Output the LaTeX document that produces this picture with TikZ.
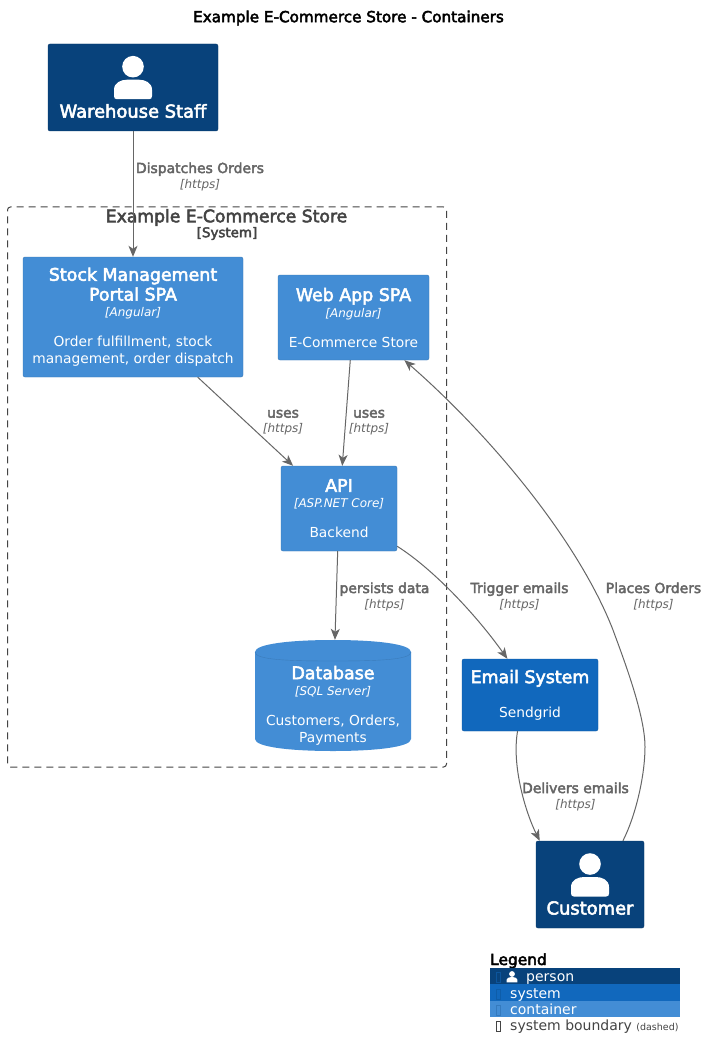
\documentclass[tikz,border=0pt]{standalone}
\usepackage{fontspec}
\setmainfont{DejaVu Sans}
\newfontfamily\semi[FakeBold=3]{DejaVu Sans}
\usetikzlibrary{arrows.meta}
\definecolor{personc}{HTML}{08427B}
\definecolor{systemc}{HTML}{1168BD}
\definecolor{containerc}{HTML}{438DD5}
\definecolor{linec}{HTML}{666666}
\definecolor{boundc}{HTML}{444444}
\newcommand{\fsz}[1]{\fontsize{#1}{#1}\selectfont}
\tikzset{
  box/.style={rectangle,rounded corners=2pt,inner sep=0pt,text=white,align=center},
  personbox/.style={box,fill=personc,draw=personc!85!black,line width=.4pt},
  systembox/.style={box,fill=systemc,draw=systemc!85!black,line width=.4pt},
  contbox/.style={box,fill=containerc,draw=containerc!85!black,line width=.4pt},
  rel/.style={draw=linec,line width=1pt,-{Stealth[length=11pt,width=9pt,inset=3pt]}},
  rellabel/.style={text=linec,align=center,inner sep=0pt},
  txt/.style={inner sep=0pt,align=center},
}
\newcommand{\nm}[1]{{\semi\fsz{17.4}#1}}
\newcommand{\tech}[1]{{\fsz{12}\itshape [#1]}}
\newcommand{\dsc}[1]{{\fsz{13.8}#1}}
\newcommand{\rl}[2]{{\semi\fsz{13.9}#1}\\[2pt]{\fsz{12}\itshape [#2]}}
\newcommand{\personicon}[2]{%
  \fill[white] (#1,#2) circle (10.8);
  \fill[white] (#1-16,#2+32.5) -- (#1+16,#2+32.5) .. controls (#1+18,#2+32.5) and (#1+19,#2+31.5) .. (#1+19,#2+29.5) -- (#1+19,#2+23) .. controls (#1+19,#2+16) and (#1+12,#2+13) .. (#1+6,#2+13) -- (#1-6,#2+13) .. controls (#1-12,#2+13) and (#1-19,#2+16) .. (#1-19,#2+23) -- (#1-19,#2+29.5) .. controls (#1-19,#2+31.5) and (#1-18,#2+32.5) .. cycle;
}
\begin{document}
\begin{tikzpicture}[x=1pt,y=-1pt,every node/.style={font=\fsz{13}}]
\useasboundingbox (0,0) rectangle (710,1059);
\fill[white] (0,0) rectangle (710,1059);
\node[txt,text=black] (title) at (348.5,18) {\semi\fsz{15.2}Example E-Commerce Store - Containers};
% boundary
\node[draw=boundc,dash pattern=on 7pt off 5pt,line width=1pt,rounded corners=3pt,minimum width=439pt,minimum height=560pt,inner sep=0pt] (boundary) at (227,487) {};
\node[txt,text=boundc] (btitle) at (226.5,217.5) {\semi\fsz{17.2}Example E-Commerce Store};
\node[txt,text=boundc] (bsub) at (227,233.5) {\semi\fsz{13.4}[System]};
% nodes
\node[personbox,minimum width=170pt,minimum height=87pt] (wh) at (133,87.5) {};
\personicon{133}{66.7}
\node[txt,text=white] (whname) at (133,111) {\semi\fsz{17.9}Warehouse Staff};
\node[contbox,minimum width=220pt,minimum height=120pt] (stock) at (133,317) {\nm{Stock Management}\\[2pt]\nm{Portal SPA}\\[3pt]\tech{Angular}\\[17pt]\dsc{Order fulfillment, stock}\\[4pt]\dsc{management, order dispatch}};
\node[contbox,minimum width=151pt,minimum height=85pt] (web) at (353.5,317.5) {\nm{Web App SPA}\\[3pt]\tech{Angular}\\[17pt]\dsc{E-Commerce Store}};
\node[contbox,minimum width=116pt,minimum height=85pt] (api) at (339,508.5) {\nm{API}\\[3pt]\tech{ASP.NET Core}\\[17pt]\dsc{Backend}};
\fill[containerc] (255,652) .. controls (255,644) and (290,640) .. (333,640) .. controls (376,640) and (411,644) .. (411,652) -- (411,739) .. controls (411,747) and (376,751) .. (333,751) .. controls (290,751) and (255,747) .. (255,739) -- cycle;
\draw[containerc!88!black,line width=.4pt] (255,652) .. controls (255,660) and (290,661) .. (333,661) .. controls (376,661) and (411,660) .. (411,652);
\node[box,minimum width=156pt,minimum height=111pt] (db) at (333,695.5) {};
\node[box] (dbtext) at (333,705.5) {\nm{Database}\\[3pt]\tech{SQL Server}\\[17pt]\dsc{Customers, Orders,}\\[4pt]\dsc{Payments}};
\node[systembox,minimum width=136pt,minimum height=72pt] (email) at (530,695) {\nm{Email System}\\[19pt]\dsc{Sendgrid}};
\node[personbox,minimum width=108pt,minimum height=87pt] (cust) at (590,884.5) {};
\personicon{590}{864}
\node[txt,text=white] (custname) at (590,908) {\semi\fsz{17.9}Customer};
% connectors
\draw[rel] (wh.south) -- (stock.north);
\draw[rel] (stock) -- (api);
\draw[rel] (web) -- (api);
\draw[rel] (api) -- (db.88);
\draw[rel] (api.-33) .. controls +(35,22) and +(-32,-45) .. (email.122.6);
\draw[rel] (email.-109.9) .. controls +(-6,35) and +(-14,-28) .. (cust.139);
\coordinate (c1) at (645,747);
\coordinate (c2) at (613,630);
\draw[rel] (cust.53.7) .. controls (636,815) and (645,775) .. (c1) .. controls (645,715) and (624,660) .. (c2) .. controls (578,540) and (490,435) .. (web.-40.1);
% labels
\node[rellabel] (l1) at (200,176.5) {\rl{Dispatches Orders}{https}};
\node[rellabel] (l2) at (283,422.5) {\rl{uses}{https}};
\node[rellabel] (l3) at (369,422.5) {\rl{uses}{https}};
\node[rellabel] (l4) at (384.5,596.5) {\rl{persists data}{https}};
\node[rellabel] (l5) at (519.5,596.5) {\rl{Trigger emails}{https}};
\node[rellabel] (l6) at (653.5,596.5) {\rl{Places Orders}{https}};
\node[rellabel] (l7) at (575.5,796.5) {\rl{Delivers emails}{https}};
% legend
\node[txt,anchor=base west,text=black] (lg) at (490,965) {\semi\fsz{15.4}Legend};
\fill[personc] (490,968) rectangle (680,984.3);
\fill[systemc] (490,984.3) rectangle (680,1000.5);
\fill[containerc] (490,1000.5) rectangle (680,1017);
\begin{scope}[shift={(512,976.5)},scale=.36]
\fill[white] (0,-7) circle (8);
\fill[white] (-15,16) -- (-15,9) .. controls (-15,4) and (-8,2) .. (-4,2) -- (4,2) .. controls (8,2) and (15,4) .. (15,9) -- (15,16) -- cycle;
\end{scope}
\draw[systemc!50!personc,line width=.6pt] (496,972) rectangle (500,982);
\draw[systemc!70!personc,line width=.6pt] (496,989) rectangle (500,999);
\draw[containerc!75!personc,line width=.6pt] (496,1005) rectangle (500,1015);
\draw[boundc,line width=.6pt] (496,1021) rectangle (500,1031);
\node[txt,anchor=base west,text=white] (lp) at (526,981.5) {\fsz{14}person};
\node[txt,anchor=base west,text=white] (ls) at (510,998) {\fsz{14}system};
\node[txt,anchor=base west,text=white] (lc) at (510,1014) {\fsz{14}container};
\node[txt,anchor=base west,text=boundc] (lb) at (510,1030) {\fsz{14}system boundary {\fsz{9.5}(dashed)}};
\end{tikzpicture}
\end{document}
